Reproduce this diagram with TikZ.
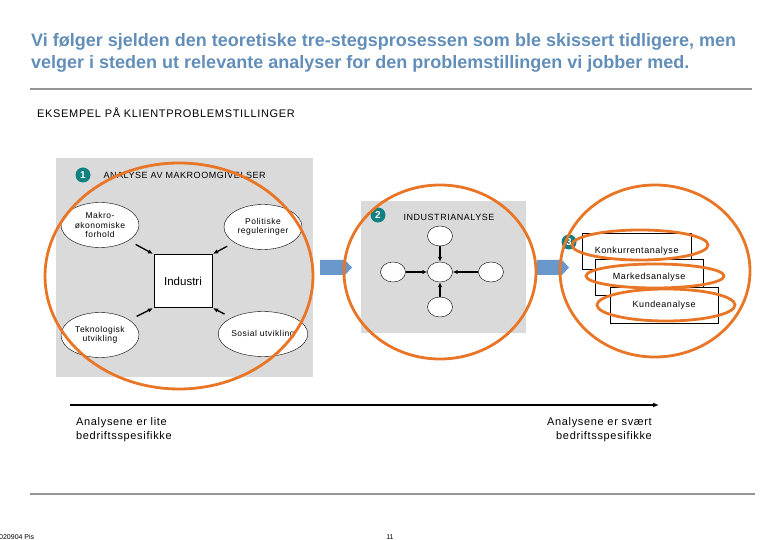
\documentclass[tikz,border=0pt]{standalone}
\usepackage{fontspec}
\setmainfont{Liberation Sans}
\newfontfamily\widefont[LetterSpace=6]{Liberation Sans}
\definecolor{titleblue}{RGB}{98,142,186}
\definecolor{panelgray}{RGB}{218,218,218}
\definecolor{rulegray}{RGB}{150,150,150}
\definecolor{stepteal}{RGB}{16,128,128}
\definecolor{arrowblue}{RGB}{104,152,204}
\definecolor{markorange}{RGB}{232,118,38}
\usetikzlibrary{arrows.meta,positioning,shapes.geometric}
\tikzset{
  factor/.style={ellipse,draw,fill=white,minimum width=78pt,minimum height=45pt,
    inner sep=0pt,align=center,font=\widefont\fontsize{8.5}{9.5}\selectfont},
  force/.style={ellipse,draw,fill=white,minimum width=25pt,minimum height=20pt,inner sep=0pt},
  stepnum/.style={circle,fill=stepteal,text=white,inner sep=0pt,minimum size=15pt,
    font=\bfseries\fontsize{10}{10}\selectfont},
  paneltitle/.style={anchor=west,font=\widefont\fontsize{9}{10}\selectfont},
  panel/.style={fill=panelgray,anchor=north west,inner sep=0pt},
  analysisbox/.style={draw,fill=white,anchor=north west,inner sep=0pt,minimum width=108pt,
    minimum height=36pt,font=\widefont\fontsize{9}{10}\selectfont},
  push/.style={-{Latex[length=5pt,width=4.5pt]},line width=1.3pt},
  highlight/.style={draw=markorange,line width=2.8pt},
  smalltext/.style={font=\widefont\fontsize{11}{14}\selectfont},
}
\begin{document}
\begin{tikzpicture}[x=1pt,y=-1pt]
    \useasboundingbox (0,0) rectangle (780,540);
    \node[anchor=north west,align=left,text=titleblue,inner sep=0pt,
          font=\bfseries\fontsize{18}{22}\selectfont] (headline) at (31,33)
      {Vi følger sjelden den teoretiske tre-stegsprosessen som ble skissert tidligere, men\\
       velger i steden ut relevante analyser for den problemstillingen vi jobber med.};
    \draw[rulegray,line width=2pt] (30,89) -- (752,89);
    \node[anchor=west,inner sep=0pt,font=\widefont\fontsize{11}{12}\selectfont] (example) at (37,113)
      {EKSEMPEL PÅ KLIENTPROBLEMSTILLINGER};

    % makro
    \node[panel,minimum width=257pt,minimum height=219pt] (macropanel) at (56,158) {};
    \node[stepnum] (stepA) at (83,175) {1};
    \node[paneltitle] (macrotitle) at (100,175) {ANALYSE AV MAKROOMGIVELSER};
    \node[draw,fill=white,minimum width=58pt,minimum height=53pt,inner sep=0pt,
          font=\fontsize{11.5}{13}\selectfont] (industri) at (183,281) {Industri};
    \node[factor] (makro) at (100,225) {Makro-\\økonomiske\\forhold};
    \node[factor] (politikk) at (263,227) {Politiske\\reguleringer};
    \node[factor] (teknologi) at (100,335) {Teknologisk\\utvikling};
    \node[factor] (sosial) at (263,334) {Sosial utvikling};
    \draw[push,shorten <=8pt,shorten >=1pt] (makro) -- (industri.north west);
    \draw[push,shorten <=8pt,shorten >=1pt] (politikk) -- (industri.north east);
    \draw[push,shorten <=8pt,shorten >=1pt] (teknologi) -- (industri.south west);
    \draw[push,shorten <=8pt,shorten >=1pt] (sosial) -- (industri.south east);

    \fill[arrowblue] (320,260) -- (345,260) -- (352,267.5) -- (345,275) -- (320,275) -- cycle;

    % industri
    \node[panel,minimum width=165pt,minimum height=132pt] (industrypanel) at (361,201) {};
    \node[stepnum] (stepB) at (378,215) {2};
    \node[paneltitle,anchor=center] (industrytitle) at (449,217) {INDUSTRIANALYSE};
    \node[force] (forcemid) at (440,272) {};
    \node[force] (forcetop) at (440,236) {};
    \node[force] (forceleft) at (393,272) {};
    \node[force] (forceright) at (491,272) {};
    \node[force] (forcebottom) at (440,307) {};
    \foreach \f in {forcetop,forceleft,forceright,forcebottom}
      \draw[push] (\f) -- (forcemid);

    \fill[arrowblue] (537,260) -- (562,260) -- (569,267.5) -- (562,275) -- (537,275) -- cycle;

    % bedrift
    \node[stepnum] (stepC) at (569,242) {3};
    \node[analysisbox,minimum width=109pt] (konkurrent) at (582,233) {Konkurrentanalyse};
    \node[analysisbox] (marked) at (595,259) {Markedsanalyse};
    \node[analysisbox] (kunde) at (610,287) {Kundeanalyse};

    \coordinate (lowspec) at (70,405);
    \coordinate (highspec) at (659,405);
    \draw[line width=1.6pt,-{Latex[length=6pt,width=5pt]}] (lowspec) -- (highspec);
    \node[smalltext,anchor=north west,align=left,inner sep=0pt] (lowtext) at (76,417)
      {Analysene er lite\\bedriftsspesifikke};
    \node[smalltext,anchor=north east,align=right,inner sep=0pt] (hightext) at (652,417)
      {Analysene er svært\\bedriftsspesifikke};

    \draw[rulegray,line width=2pt] (30,494) -- (755,494);
    \node[anchor=west,inner sep=0pt,font=\fontsize{7}{8}\selectfont] (stamp) at (-1,537) {020904 Pis};
    \node[inner sep=0pt,font=\fontsize{7}{8}\selectfont] (pagenum) at (390,537) {11};

    \draw[highlight] (179,276) ellipse [x radius=134, y radius=113];
    \draw[highlight] (440,272) ellipse [x radius=96, y radius=87];
    \draw[highlight] (655,271) ellipse [x radius=95, y radius=86];
    \draw[highlight] (640,245) ellipse [x radius=68, y radius=15];
    \draw[highlight] (655,276) ellipse [x radius=69, y radius=12];
    \draw[highlight] (666,305) ellipse [x radius=69, y radius=16];
\end{tikzpicture}
\end{document}
